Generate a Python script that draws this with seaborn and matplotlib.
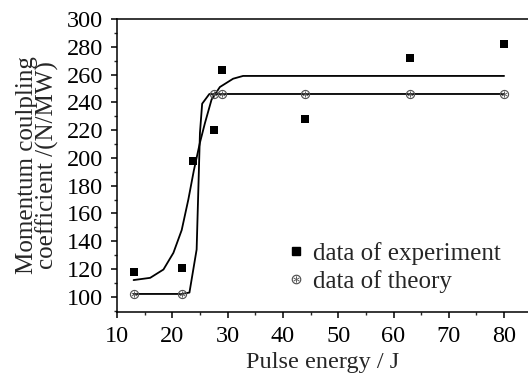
"""
Momentum coupling coefficient vs pulse energy
(experiment vs theory, with fitted curves)
"""

import numpy as np
import pandas as pd
import matplotlib
matplotlib.use("Agg")
import matplotlib.pyplot as plt
import matplotlib.ticker as mticker
from matplotlib.lines import Line2D
import seaborn as sns

# ── Data ───────────────────────────────────────────────────────────────────────
exp_energy = [13, 21.7, 23.8, 27.6, 29.0, 44.0, 62.9, 80.0]
exp_coeff  = [118, 121, 198, 220, 263, 228, 272, 282]

theory_energy = [13, 21.7, 27.6, 29.0, 44.0, 62.9, 80.0]
theory_coeff  = [102, 102, 246, 246, 246, 246, 246]

# fitted curve through the experimental data
exp_fit_energy = [13, 16, 18.4, 20.2, 21.7, 22.9, 23.9, 25.0, 25.9, 27.1, 28.6, 31.0, 32.8, 80]
exp_fit_coeff  = [112, 113.6, 119.6, 131.6, 148, 170, 191, 211, 225, 242, 251, 257, 259, 259]

# curve through the theory data
theory_fit_energy = [13, 21.7, 23.1, 24.4, 25.0, 25.4, 26.7, 80]
theory_fit_coeff  = [102, 102, 103, 134, 218, 239, 246, 246]

x_ticks = [10, 20, 30, 40, 50, 60, 70, 80]
y_ticks = [100, 120, 140, 160, 180, 200, 220, 240, 260, 280, 300]

# ── Style ──────────────────────────────────────────────────────────────────────
sns.set_theme(style="ticks")
plt.rcParams["font.family"] = ["Liberation Serif", "DejaVu Serif"]
plt.rcParams["mathtext.fontset"] = "dejavuserif"

fig = plt.figure(figsize=(5.28, 3.81), dpi=100)
ax = fig.add_axes([117 / 528, 1 - 312 / 381, 411 / 528, 293 / 381])

exp_df = pd.DataFrame({"energy": exp_energy, "coeff": exp_coeff})
th_df = pd.DataFrame({"energy": theory_energy, "coeff": theory_coeff})
exp_fit = pd.DataFrame({"energy": exp_fit_energy, "coeff": exp_fit_coeff})
th_fit = pd.DataFrame({"energy": theory_fit_energy, "coeff": theory_fit_coeff})

sns.lineplot(data=exp_fit, x="energy", y="coeff", ax=ax, color="black",
             linewidth=1.3, sort=False, estimator=None)
sns.lineplot(data=th_fit, x="energy", y="coeff", ax=ax, color="black",
             linewidth=1.3, sort=False, estimator=None)
sns.scatterplot(data=exp_df, x="energy", y="coeff", ax=ax, marker="s",
                color="black", s=32, linewidth=0, zorder=4)
sns.scatterplot(data=th_df, x="energy", y="coeff", ax=ax, marker=r"$\circledast$",
                color="#555555", s=45, linewidth=0, zorder=4)

ax.set_xlim(10, 10 + 411 / 5.53)
ax.set_ylim(89, 300)
ax.set_xticks(x_ticks)
ax.set_yticks(y_ticks)
ax.xaxis.set_minor_locator(mticker.MultipleLocator(5))
ax.yaxis.set_minor_locator(mticker.MultipleLocator(10))
ax.tick_params(which="major", direction="out", length=4.3, width=1.1,
               labelsize=17.5, colors="black", pad=5.5)
ax.tick_params(which="minor", direction="out", length=2.5, width=1.0)
ax.spines["right"].set_visible(False)
for s in ["left", "bottom", "top"]:
    ax.spines[s].set_linewidth(1.1)
    ax.spines[s].set_color("black")

ax.set_xlabel("Pulse energy / J", fontsize=17.5, labelpad=4)
ax.set_ylabel("Momentum coulpling\ncoefficient /(N/MW)", fontsize=18,
              labelpad=6, linespacing=0.85)

handles = [
    Line2D([], [], marker="s", color="black", linestyle="none", markersize=5.5),
    Line2D([], [], marker=r"$\circledast$", color="#555555", linestyle="none",
           markersize=7, markeredgewidth=0),
]
ax.legend(handles, ["data of experiment", "data of theory"], loc="upper left",
          bbox_to_anchor=(0.421, 0.24), frameon=False, fontsize=18,
          handlelength=0.5, handletextpad=0.4, labelspacing=0.2,
          borderaxespad=0, borderpad=0)

fig.savefig("out.png", dpi=100)
